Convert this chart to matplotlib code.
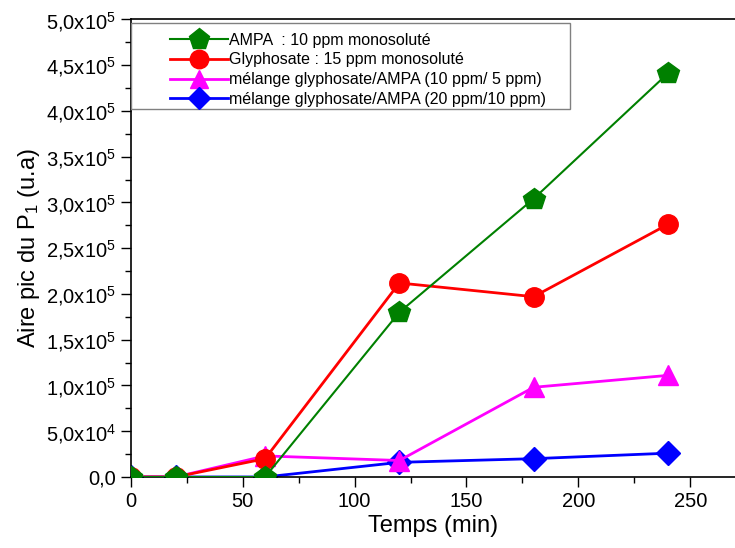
import numpy as np
import matplotlib
matplotlib.use("Agg")
import matplotlib.pyplot as plt
import matplotlib.patches as patches
from matplotlib.ticker import MultipleLocator, FixedLocator

plt.rcParams['font.family'] = ['Liberation Sans', 'DejaVu Sans']
plt.rcParams['mathtext.fontset'] = 'custom'
plt.rcParams['mathtext.rm'] = 'Liberation Sans'
plt.rcParams['mathtext.it'] = 'Liberation Sans'

# donnees
temps = [0, 20, 60, 120, 180, 240]
ampa = [0, 0, 0, 1.80e5, 3.04e5, 4.41e5]
glypho = [0, 0, 2.0e4, 2.12e5, 1.97e5, 2.76e5]
melange1 = [0, 0, 2.3e4, 1.8e4, 0.98e5, 1.11e5]
melange2 = [0, 0, 0, 1.6e4, 2.0e4, 2.6e4]

noms = ["AMPA  : 10 ppm monosoluté",
        "Glyphosate : 15 ppm monosoluté",
        "mélange glyphosate/AMPA (10 ppm/ 5 ppm)",
        "mélange glyphosate/AMPA (20 ppm/10 ppm)"]

yticks = [0, 5e4, 1e5, 1.5e5, 2e5, 2.5e5, 3e5, 3.5e5, 4e5, 4.5e5, 5e5]
ylabels = ['0,0', '5,0x10$^4$', '1,0x10$^5$', '1,5x10$^5$', '2,0x10$^5$',
           '2,5x10$^5$', '3,0x10$^5$', '3,5x10$^5$', '4,0x10$^5$',
           '4,5x10$^5$', '5,0x10$^5$']

fig = plt.figure(figsize=(7.35, 5.48), dpi=100)
ax = fig.add_axes([0.178, 0.1296, 0.822, 0.835])

l4, = ax.plot(temps, melange2, color='#0000ff', marker='D', ms=12, lw=2, zorder=2)
l3, = ax.plot(temps, melange1, color='#ff00ff', marker='^', ms=14, lw=2, zorder=3)
l2, = ax.plot(temps, glypho, color='#ff0000', marker='o', ms=14, lw=2, zorder=4)
l1, = ax.plot(temps, ampa, color='#008000', marker='p', ms=16, lw=1.5, zorder=5)

ax.set_xlim(0, 270)
ax.set_ylim(0, 5e5)
ax.xaxis.set_major_locator(MultipleLocator(50))
ax.xaxis.set_minor_locator(MultipleLocator(25))
ax.yaxis.set_major_locator(FixedLocator(yticks))
ax.yaxis.set_minor_locator(MultipleLocator(2.5e4))
ax.set_yticklabels(ylabels)

ax.tick_params(which='major', direction='out', length=7, width=1, labelsize=14.5)
ax.tick_params(which='minor', direction='out', length=4, width=1)
ax.spines['right'].set_visible(False)
for s in ['left', 'bottom', 'top']:
    ax.spines[s].set_linewidth(1.2)

ax.set_xlabel('Temps (min)', fontsize=17, labelpad=3)
ax.set_ylabel('Aire pic du P$_1$ (u.a)', fontsize=17, labelpad=3)

# cadre de la legende
cadre = patches.Rectangle((0.0, 0.804), 0.727, 0.189, transform=ax.transAxes,
                          facecolor='white', edgecolor='#808080', lw=1, zorder=6)
ax.add_patch(cadre)

leg = ax.legend([l1, l2, l3, l4], noms, loc='upper left', bbox_to_anchor=(0.06, 0.978),
                fontsize=11.5, handlelength=3.6, handletextpad=0.1, labelspacing=0.3,
                borderpad=0.2, frameon=False, borderaxespad=0,
                markerscale=0.95)
leg.set_zorder(7)

plt.savefig('out.png', dpi=100)
